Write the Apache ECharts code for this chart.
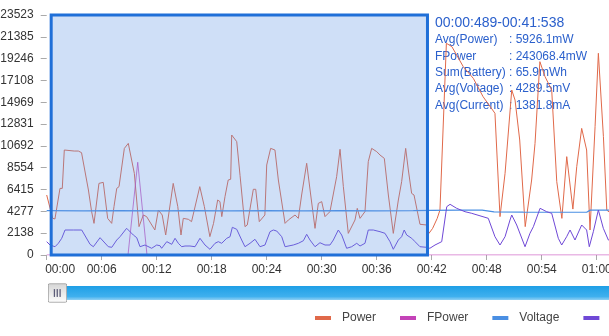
<!DOCTYPE html>
<html>
<head>
<meta charset="utf-8">
<script src="https://cdn.jsdelivr.net/npm/echarts@6/dist/echarts.min.js"></script>
<style>
html,body{margin:0;padding:0;background:#fff;overflow:hidden;}
#chart{width:609px;height:336px;}
</style>
</head>
<body>
<div id="chart"></div>
<script>
// ---- data (time in seconds, values) ----
const seriesNames = ['Power', 'FPower', 'Voltage', 'Current'];

const powerData = [
[0,5880],[0.65,3600],[0.9,3530],[1.45,6530],[1.7,6530],[1.92,10290],[3.0,10190],[3.45,10190],[3.8,10030],
[4.55,6370],[4.9,4250],[5.16,3100],[5.7,7020],[6.17,7120],[6.65,3590],[7.09,3100],[7.34,4740],[7.64,6530],
[7.89,6700],[8.47,10450],[8.9,10940],[9.56,8000],[10.07,2780],[10.54,3920],[10.9,3760],[11.8,2450],[12.18,4410],
[12.6,3920],[12.98,1960],[13.8,7020],[14.3,4740],[14.65,1960],[14.9,3590],[15.45,3500],[15.8,3270],[16.7,6700],
[17.2,4740],[17.8,1800],[18.2,3100],[18.65,5390],[18.9,5230],[19.1,3760],[19.45,5720],[19.8,7350],[20.07,7420],
[20.18,11760],[20.73,11110],[21.09,7800],[21.63,2780],[21.88,2940],[22.54,6440],[22.8,6440],[23.19,3270],[23.8,3920],
[24.0,8820],[24.43,10450],[24.9,10290],[25.27,7350],[26.0,3100],[26.36,3430],[27.09,3920],[27.45,3590],[27.81,5880],
[28.0,6040],[28.36,8990],[28.8,5880],[29.27,2610],[29.63,5060],[30.0,5230],[30.36,3760],[30.9,4250],[31.09,4250],
[31.63,7680],[32.0,10360],[32.36,6700],[32.9,2120],[33.09,2120],[33.63,3430],[33.88,4570],[34.18,3590],[34.72,4250],
[35.08,9150],[35.45,10450],[36.0,10130],[36.36,9800],[36.83,9470],[37.27,5880],[37.81,2120],[38.36,5390],[38.72,7190],
[38.9,7190],[39.16,10450],[39.45,8330],[39.81,6040],[40.07,5880],[40.72,3010],[41.45,2940],[41.7,2120],[42.1,2610],
[42.6,3590],[42.9,4410],[43.1,4570],[43.6,20750],[44.2,20420],[45.45,18450],[46.54,17310],[47.6,15520],[48.9,13890],
[49.45,3760],[50.0,8000],[50.2,8000],[50.73,16170],[51.09,15190],[51.6,11270],[52.2,2780],[52.9,7350],[53.27,10940],
[53.8,18950],[54.36,17480],[55.09,16170],[55.64,7190],[56.2,3590],[56.73,9640],[57.4,4500],[57.82,8660],[58.36,12410],
[58.9,10290],[59.27,2450],[59.82,12580],[60.18,19770],[60.73,11600],[61.1,4400],[61.5,4100]
];

const fpowerData = [
[0,0],[2,0],[4,0],[6,0],[8,0],[8.87,0],[9.93,9090],[10.94,0],[13,0],[20,0],[30,0],[40,0],[50,0],[61.5,0]
];

const voltageData = [
[0,4340],[4,4330],[8,4340],[12,4330],[16,4340],[20,4330],[24,4340],[28,4330],[32,4340],[36,4330],[40,4340],
[42,4380],[45,4400],[47.5,4400],[48.8,4230],[52,4200],[56,4190],[58.9,4190],[59.3,4400],[61.5,4400]
];

const currentData = [
[0,1307],[0.36,980],[0.91,813],[1.27,1147],[1.64,1637],[2.0,2450],[2.9,2450],[3.82,2450],[4.73,1049],[5.09,813],
[5.82,1696],[6.0,1696],[6.72,813],[7.1,755],[7.64,1470],[8.0,1794],[8.72,2617],[8.9,2548],[9.45,1960],[9.82,1696],
[10.18,813],[10.72,980],[11.45,657],[12.0,980],[12.36,911],[12.54,657],[13.1,1307],[13.64,1049],[14.0,1637],[14.36,1147],
[14.73,813],[15.09,882],[15.63,882],[16.18,813],[16.72,1637],[17.27,980],[17.81,559],[18.36,1147],[18.72,1307],[19.09,1147],
[19.64,1637],[20.0,1794],[20.25,2715],[20.73,2519],[21.27,1470],[21.63,813],[22.18,1147],[22.72,1539],[23.27,813],[23.81,980],
[24.36,2284],[24.72,2450],[25.09,2352],[25.64,1794],[26.0,813],[26.9,980],[27.45,1147],[28.0,1401],[28.36,2029],[28.72,1470],
[29.27,813],[29.81,1205],[30.36,980],[30.9,980],[31.27,1470],[31.81,2450],[32.18,1960],[32.72,657],[33.27,813],[33.82,1147],
[34.18,882],[34.72,1147],[35.08,2450],[35.63,2450],[36.36,2284],[36.9,2127],[37.45,1307],[37.81,559],[38.36,1470],[38.72,1794],
[39.0,2450],[39.27,1960],[39.82,1637],[40.18,1307],[40.72,813],[41.45,755],[41.8,657],[42.36,980],[43.09,1307],[43.64,4734],
[44.0,4969],[44.72,4577],[45.63,4244],[46.36,4087],[48.17,3597],[48.9,1794],[49.45,980],[50.0,1794],[50.54,3430],[50.73,3920],
[51.27,2940],[52.18,813],[52.72,2127],[53.09,2774],[53.82,4577],[54.54,4244],[55.09,4087],[55.81,1637],[56.18,980],[56.72,1794],
[57.09,2450],[57.63,1470],[58.36,2940],[58.9,2450],[59.19,813],[59.63,2284],[60.18,4410],[60.72,2617],[61.27,1470],[61.5,1400]
];

const selectionRange = [0.489, 41.538];
const yMax = 23523;
const yTickCount = 11;
const xTickStep = 6;
const xMax = 63;

const infoLabels = ['Avg(Power)', 'FPower', 'Sum(Battery)', 'Avg(Voltage)', 'Avg(Current)'];
const infoValues = [': 5926.1mW', ': 243068.4mW', ': 65.9mWh', ': 4289.5mV', ': 1381.8mA'];
const infoTitle = '00:00:489-00:41:538';

const colors = ['#e0694a', '#c443b8', '#4a8fe3', '#6f48d6'];

// ---- chart ----
const chart = echarts.init(document.getElementById('chart'), null, {renderer: 'canvas'});
const FONT = '"Liberation Sans", Arial, Helvetica, sans-serif';

function fmtTime(v) {
  const m = Math.floor(v / 60), s = Math.round(v % 60);
  return String(m).padStart(2, '0') + ':' + String(s).padStart(2, '0');
}

const handleSvg = "<svg xmlns='http://www.w3.org/2000/svg' width='40' height='40' viewBox='0 0 20 20'>" +
  "<defs><linearGradient id='g' x1='0' y1='0' x2='0' y2='1'><stop offset='0' stop-color='#fdfdfd'/><stop offset='1' stop-color='#d6d6d6'/></linearGradient></defs>" +
  "<rect x='0.5' y='0.5' width='19' height='19' rx='1.5' fill='url(#g)' stroke='#9a9a9a'/>" +
  "<rect x='6.2' y='6' width='1.3' height='8' fill='#5c5c78'/><rect x='9.1' y='6' width='1.3' height='8' fill='#5c5c78'/><rect x='12' y='6' width='1.3' height='8' fill='#5c5c78'/></svg>";

const graphics = [{
  type: 'text', left: 435, top: 16,
  style: {text: infoTitle, font: '14px ' + FONT, fill: '#2b60cc'}
}];
infoLabels.forEach((lab, i) => {
  graphics.push({type: 'text', left: 435, top: 34 + i * 16.3, style: {text: lab, font: '12px ' + FONT, fill: '#2b60cc'}});
  graphics.push({type: 'text', left: 509, top: 34 + i * 16.3, style: {text: infoValues[i], font: '12px ' + FONT, fill: '#2b60cc'}});
});

const yInterval = yMax / yTickCount;

const option = {
  animation: false,
  backgroundColor: '#fff',
  textStyle: {fontFamily: FONT},
  grid: {left: 46.7, top: 15, width: xMax * 9.167, height: 240, containLabel: false, outerBoundsMode: 'none'},
  legend: {
    data: seriesNames, left: 310, top: 307, width: 500, icon: 'rect', itemWidth: 16, itemHeight: 4, itemGap: 24,
    textStyle: {fontSize: 12, color: '#444', fontFamily: FONT, padding: [0, 0, 0, 6]}
  },
  xAxis: {
    type: 'value', min: 0, max: xMax, interval: xTickStep,
    axisLine: {show: false},
    axisTick: {show: true, length: 5, lineStyle: {color: '#aaa'}},
    splitLine: {show: false},
    axisLabel: {
      margin: 9, fontSize: 12, color: '#333', fontFamily: FONT, showMaxLabel: false,
      formatter: v => v === 0 ? '{first|' + fmtTime(v) + '}' : fmtTime(v),
      rich: {first: {padding: [0, 0, 0, 27], fontSize: 12, color: '#333', fontFamily: FONT}}
    }
  },
  yAxis: {
    type: 'value', min: 0, max: yMax, interval: yInterval,
    axisLine: {show: false},
    axisTick: {show: true, length: 6, lineStyle: {color: '#aaa'}},
    splitLine: {show: false},
    axisLabel: {margin: 13, fontSize: 12, color: '#333', fontFamily: FONT, padding: [0, 0, 7, 0],
      formatter: v => String(Math.round(v))}
  },
  dataZoom: [{
    type: 'slider', xAxisIndex: 0, start: 0, end: 100, filterMode: 'none',
    left: 55.5, width: 620, top: 286, height: 14,
    showDetail: false, showDataShadow: false, brushSelect: false, moveHandleSize: 0,
    borderColor: 'transparent', backgroundColor: 'transparent',
    fillerColor: new echarts.graphic.LinearGradient(0, 0, 0, 1, [
      {offset: 0, color: '#8fd0f4'}, {offset: 0.25, color: '#3fb0ee'}, {offset: 1, color: '#1e9fe6'}]),
    handleIcon: 'image://data:image/svg+xml;charset=utf-8,' + encodeURIComponent(handleSvg),
    handleSize: '140%',
    handleStyle: {borderWidth: 0},
    dataBackground: {lineStyle: {opacity: 0}, areaStyle: {opacity: 0}}
  }],
  graphic: graphics,
  series: [
    {name: 'Power', type: 'line', data: powerData, showSymbol: false, color: colors[0], lineStyle: {width: 1, color: colors[0]}, z: 3},
    {name: 'FPower', type: 'line', data: fpowerData, showSymbol: false, color: colors[1], lineStyle: {width: 1, color: colors[1], opacity: 0.75}, z: 3},
    {name: 'Voltage', type: 'line', data: voltageData, showSymbol: false, color: colors[2], lineStyle: {width: 1.2, color: colors[2]}, z: 3},
    {name: 'Current', type: 'line', data: currentData, showSymbol: false, color: colors[3], lineStyle: {width: 1, color: colors[3]}, z: 3},
    {name: 'selection', type: 'line', data: [], z: 10, silent: true,
      markArea: {
        silent: true, z: 10,
        itemStyle: {color: 'rgba(95,148,228,0.3)', borderColor: '#1f6fd8', borderWidth: 3},
        data: [[{xAxis: selectionRange[0]}, {xAxis: selectionRange[1]}]]
      }
    }
  ]
};
chart.setOption(option);
</script>
</body>
</html>
